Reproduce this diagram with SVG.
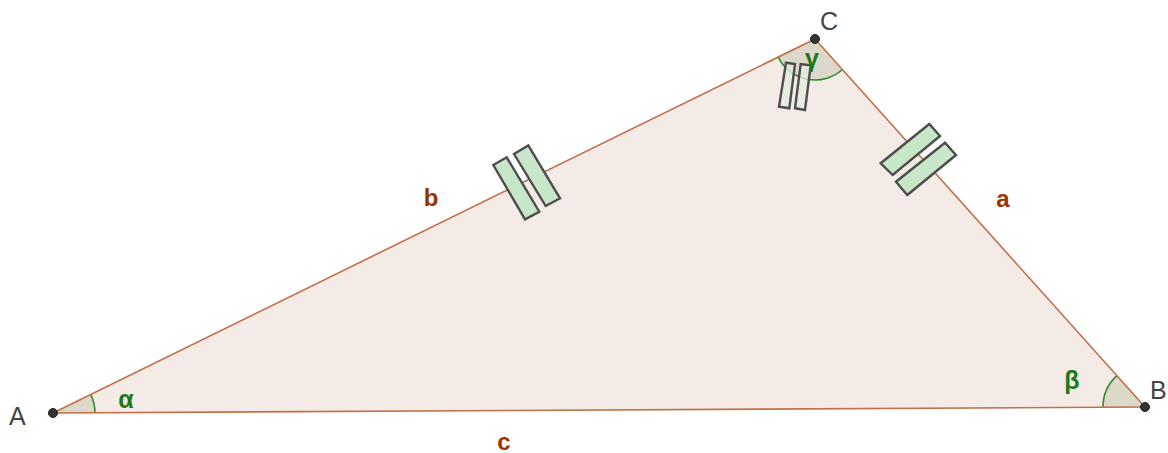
<svg xmlns="http://www.w3.org/2000/svg" width="1168" height="453" viewBox="0 0 1168 453">
<style>
.side{stroke:#c0704a;stroke-width:1.6;fill:none}
.sector{fill:#5a6e2c;fill-opacity:0.15;stroke:none}
.arc{fill:none;stroke:#2e8b2e;stroke-width:1.6}
.tick{fill:#c8e6c8;stroke:#4d4d4d;stroke-width:2.4;stroke-linejoin:miter}
.tickc{fill:#e4ece0;fill-opacity:0.8;stroke:#4d4d4d;stroke-width:2.4}
.pt{fill:#333;stroke:#222;stroke-width:1}
.plab{font-family:"Liberation Sans",Arial,sans-serif;font-size:25px;fill:#444}
.slab{font-family:"Liberation Sans",Arial,sans-serif;font-size:24px;font-weight:bold;fill:#993300}
.alab{font-family:"Liberation Sans",Arial,sans-serif;font-size:25px;font-weight:bold;fill:#1a7a1a}
</style>
<rect width="1168" height="453" fill="#ffffff"/>
<g id="triangle">
<polygon points="53,413 1145,407 815,39" fill="#f4ebe6" stroke="none"/>
</g>
<g id="angles">
<path class="sector" d="M53,413 L95,412.8 A42,42 0 0 0 90.7,394.5 Z"/>
<path class="arc" d="M95,412.8 A42,42 0 0 0 90.7,394.5"/>
<path class="sector" d="M1145,407 L1103,407.2 A42,42 0 0 1 1117,375.7 Z"/>
<path class="arc" d="M1103,407.2 A42,42 0 0 1 1117,375.7"/>
<path class="sector" d="M815,39 L778.2,57.1 A41,41 0 0 0 842.4,69.5 Z"/>
<path class="arc" d="M778.2,57.1 A41,41 0 0 0 842.4,69.5"/>
</g>
<g id="connectors">
<line id="side-c" class="side" x1="53" y1="413" x2="1145" y2="407"/>
<line id="side-b" class="side" x1="53" y1="413" x2="815" y2="39"/>
<line id="side-a" class="side" x1="815" y1="39" x2="1145" y2="407"/>
</g>
<g id="ticks">
<polygon class="tick" points="493.3,165 506.7,157.3 539.3,211.7 525,219.3"/>
<polygon class="tick" points="514,154 528.3,145.5 560,198.3 545.7,206"/>
<polygon class="tick" points="880.7,163.3 929.3,124 940,136 892.7,175"/>
<polygon class="tick" points="896,181.7 945,142.7 956,155 907.3,195"/>
<polygon class="tickc" points="779,106.7 786,62.7 795,64 789.3,108.3"/>
<polygon class="tickc" points="795,108.3 800.7,64 810.7,65.3 805,110"/>
</g>
<g id="A"><circle class="pt" cx="53" cy="413" r="4.5"/><text class="plab" x="9" y="425">A</text></g>
<g id="B"><circle class="pt" cx="1145" cy="407" r="4.5"/><text class="plab" x="1150" y="399">B</text></g>
<g id="C"><circle class="pt" cx="815" cy="39" r="4.5"/><text class="plab" x="820" y="30">C</text></g>
<g id="labels">
<text class="slab" x="431" y="206" text-anchor="middle">b</text>
<text class="slab" x="1003" y="207" text-anchor="middle">a</text>
<text class="slab" x="504" y="450" text-anchor="middle">c</text>
<text class="alab" x="126" y="408" text-anchor="middle">α</text>
<text class="alab" x="1072" y="389" text-anchor="middle">β</text>
<text class="alab" x="812" y="67" text-anchor="middle">γ</text>
</g>
</svg>
